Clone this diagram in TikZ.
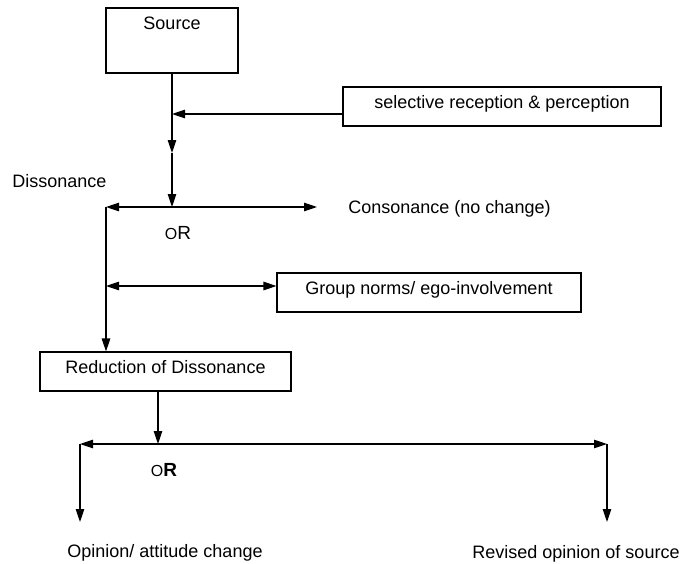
\documentclass[tikz,border=0pt]{standalone}
\usepackage{fontspec}
\setmainfont{Liberation Sans}
\usetikzlibrary{arrows.meta}
\begin{document}
\begin{tikzpicture}[x=1pt,y=-1pt,
  line width=1.1pt,
  tipend/.style={-{Triangle[length=13pt,width=8.5pt]}},
  bothends/.style={{Triangle[length=13pt,width=8.5pt]}-{Triangle[length=13pt,width=8.5pt]}},
  box/.style={draw, rectangle, inner sep=0pt, text height=21.5pt, text depth=17.5pt,
    font=\fontsize{18}{21}\selectfont},
  lbl/.style={inner sep=0pt, anchor=base, font=\fontsize{18}{21}\selectfont}]
\useasboundingbox (0,0) rectangle (683,563);

% boxes
\node[box, minimum width=132pt, text depth=43.5pt] (src) at (172,40.5) {Source};
\node[box, minimum width=318pt] (sel) at (502,106.5) {selective reception \& perception};
\node[box, minimum width=304pt] (grp) at (429,292.5) {Group norms/ ego-involvement};
\node[box, minimum width=251pt] (red) at (165.5,371.5) {Reduction of Dissonance};

% free labels
\node[lbl] (dis) at (59.5,187) {Dissonance};
\node[lbl] (con) at (449.5,213) {Consonance (no change)};
\node[lbl] (or1) at (178,239) {{\fontsize{16}{19}\selectfont O}{\fontsize{19}{22}\selectfont R}};
\node[lbl] (or2) at (164,476) {{\fontsize{16}{19}\selectfont O}{\fontsize{19}{22}\selectfont\bfseries R}};
\node[lbl] (opi) at (165,557) {Opinion/ attitude change};
\node[lbl] (rev) at (576,558) {Revised opinion of source};

% junction points
\coordinate (p1) at (172,114);
\coordinate (m1) at (172,153);
\coordinate (j1) at (172,207);
\coordinate (l1) at (106,207);
\coordinate (r1) at (317,207);
\coordinate (l2) at (106,286);
\coordinate (j2) at (158,444);
\coordinate (l3) at (80,444);
\coordinate (r3) at (607,444);
\coordinate (e1) at (80,522);
\coordinate (e2) at (607,522);

% upper part
\draw[tipend] (src.south -| m1) -- (m1);
\draw[tipend] (m1) -- (j1);
\draw[tipend] (sel.west |- p1) -- (p1);
\draw[bothends] (l1) -- (r1);
\draw[bothends] (l2) -- (grp.west |- l2);
\draw[tipend] (l1) -- (l1 |- red.north);

% lower part
\draw[tipend] (red.south -| j2) -- (j2);
\draw[bothends] (l3) -- (r3);
\draw[tipend] (l3) -- (e1);
\draw[tipend] (r3) -- (e2);
\end{tikzpicture}
\end{document}
